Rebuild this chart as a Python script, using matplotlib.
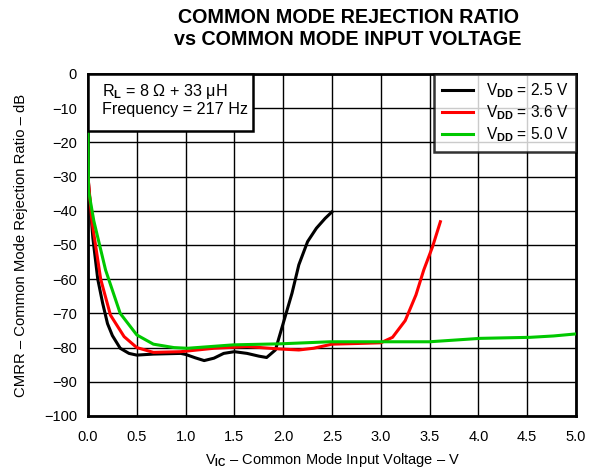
import numpy as np
import matplotlib
matplotlib.use('Agg')
import matplotlib.pyplot as plt
from matplotlib.patches import Rectangle

plt.rcParams['font.family'] = ['Liberation Sans', 'DejaVu Sans']
plt.rcParams['mathtext.fontset'] = 'custom'
plt.rcParams['mathtext.rm'] = 'Liberation Sans'
plt.rcParams['mathtext.it'] = 'Liberation Sans:italic'
plt.rcParams['mathtext.bf'] = 'Liberation Sans:bold'

# Data
v_25 = [0, 0.05, 0.1, 0.15, 0.2, 0.25, 0.33, 0.42, 0.5, 0.67, 0.95, 1.0, 1.1, 1.19, 1.29, 1.39,
        1.5, 1.63, 1.75, 1.83, 1.92, 2.0, 2.09, 2.16, 2.25, 2.34, 2.43, 2.5]
db_25 = [-30, -48, -60, -67, -73, -76.5, -80.2, -81.7, -82.2, -81.9, -81.7, -82, -83, -83.8, -83.1, -81.7,
         -81.2, -81.7, -82.5, -82.9, -80.7, -72.9, -64.1, -55.8, -49, -45.1, -42.2, -40.3]

v_36 = [0, 0.04, 0.13, 0.23, 0.37, 0.5, 0.67, 0.95, 1.29, 1.63, 1.96, 2.16, 2.31, 2.5, 2.76, 3.0,
        3.12, 3.25, 3.36, 3.44, 3.53, 3.61]
db_36 = [-30, -43, -60, -70.5, -76.8, -80, -81.4, -81.2, -80.2, -79.7, -80.4, -80.7, -80.2, -79, -78.8, -78.6,
         -77, -72.1, -64.6, -57.3, -50.5, -43.2]

v_50 = [0, 0.005, 0.06, 0.18, 0.33, 0.5, 0.67, 0.88, 1.02, 1.49, 1.97, 2.48, 3.0, 3.5, 4.02, 4.53, 4.77, 5.0]
db_50 = [-17, -34, -43, -57.3, -70, -76.3, -79, -80, -80.2, -79.2, -78.9, -78.3, -78.3, -78.3, -77.3, -77, -76.6, -76]

labels = [r'V$_{\mathbf{DD}}$ = 2.5 V', r'V$_{\mathbf{DD}}$ = 3.6 V', r'V$_{\mathbf{DD}}$ = 5.0 V']
colors = ['#000000', '#ff0000', '#00c800']

fig = plt.figure(figsize=(5.89, 4.74), dpi=100)
ax = fig.add_axes([0.1494, 0.1224, 0.8286, 0.7215])

for v, db, lab, c in zip([v_25, v_36, v_50], [db_25, db_36, db_50], labels, colors):
    ax.plot(v, db, color=c, lw=2.2, label=lab, zorder=3)

ax.set_xlim(0, 5)
ax.set_ylim(-100, 0)
ax.set_xticks(np.arange(0, 5.01, 0.5))
ax.set_yticks(np.arange(-100, 1, 10))
ax.set_xticklabels(['%.1f' % t for t in np.arange(0, 5.01, 0.5)])
ax.grid(True, color='black', lw=1)
ax.tick_params(length=0, labelsize=10.5)
ax.tick_params(axis='x', pad=10)
ax.tick_params(axis='y', pad=8)
for s in ax.spines.values():
    s.set_linewidth(2)

ax.set_xlabel(r'V$_{\mathbf{IC}}$ – Common Mode Input Voltage – V', fontsize=10.5, labelpad=5)
ax.set_ylabel('CMRR – Common Mode Rejection Ratio – dB', fontsize=10.7, labelpad=11)

fig.text(0.591, 0.963, 'COMMON MODE REJECTION RATIO', fontsize=14.2, fontweight='bold',
         ha='center', va='center')
fig.text(0.591, 0.917, 'vs COMMON MODE INPUT VOLTAGE', fontsize=14.2, fontweight='bold',
         ha='center', va='center')

# condition box in the upper left corner
ax.add_patch(Rectangle((0, 1), 0.338, -0.167, transform=ax.transAxes, fc='white',
                       ec='black', lw=1.8, zorder=5, clip_on=False))
ax.text(0.028, 0.948, 'R$_{\\mathbf{L}}$ = 8 Ω + 33 μH', transform=ax.transAxes,
        fontsize=11.6, va='center', ha='left', zorder=6)
ax.text(0.028, 0.895, 'Frequency = 217 Hz', transform=ax.transAxes,
        fontsize=11.6, va='center', ha='left', zorder=6)

leg = ax.legend(loc='upper right', fontsize=11.2, frameon=True, fancybox=False,
                edgecolor='black', borderaxespad=0, handlelength=2.0, handletextpad=0.85,
                labelspacing=0.2, borderpad=0.5)
leg.get_frame().set_linewidth(1.8)
leg.set_zorder(5)

fig.savefig('out.png', dpi=100)
